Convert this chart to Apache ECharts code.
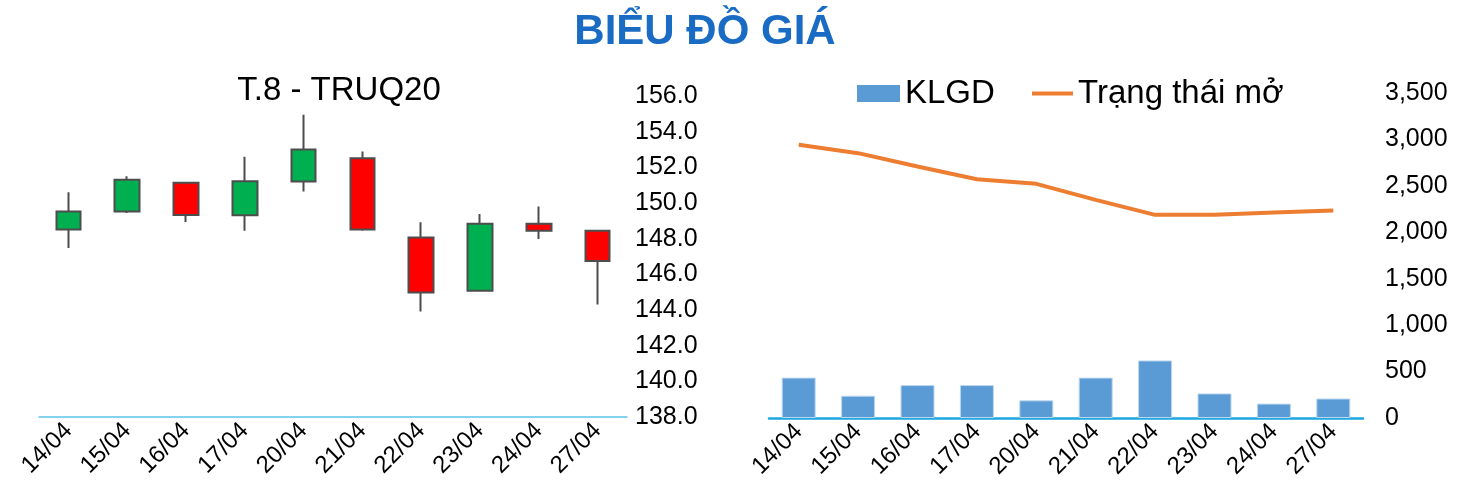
<!doctype html>
<html lang="vi">
  <head>
    <meta charset="utf-8">
    <title>Biểu đồ giá</title>
    <script src="https://cdn.jsdelivr.net/npm/echarts@6/dist/echarts.min.js"></script>
    <style>
      html, body { margin: 0; padding: 0; background: #fff; }
      #chart { width: 1463px; height: 501px; }
    </style>
  </head>
  <body>
    <div id="chart"></div>

  <script>
    // ngày giao dịch
    var days = ['14/04', '15/04', '16/04', '17/04', '20/04', '21/04', '22/04', '23/04', '24/04', '27/04'];

    // nến: mở, đóng, thấp, cao
    var priceOpen  = [148.52, 149.52, 151.13, 149.31, 151.20, 152.51, 148.07, 145.08, 148.84, 148.45];
    var priceClose = [149.53, 151.31, 149.33, 151.22, 153.00, 148.52, 144.98, 148.84, 148.45, 146.75];
    var priceLow   = [147.48, 149.44, 148.94, 148.45, 150.64, 148.45, 143.92, 145.08, 147.98, 144.31];
    var priceHigh  = [150.60, 151.50, 151.13, 152.59, 154.95, 152.89, 148.92, 149.39, 149.81, 148.45];

    // khối lượng giao dịch và trạng thái mở
    var klgd = [435, 240, 355, 355, 190, 435, 620, 265, 155, 210];
    var openInterest = [2942, 2852, 2708, 2572, 2522, 2349, 2188, 2188, 2212, 2234];

    var candleData = [];
    for (var i = 0; i < days.length; i++) {
      candleData.push([priceOpen[i], priceClose[i], priceLow[i], priceHigh[i]]);
    }

    var font = "'Liberation Sans', Arial, sans-serif";

    var chart = echarts.init(document.getElementById('chart'), null, { renderer: 'canvas' });

    var option = {
      animation: false,
      textStyle: { fontFamily: font },
      title: [
        {
          text: 'BIỂU ĐỒ GIÁ',
          left: 700,
          textAlign: 'center',
          top: 6,
          textStyle: { color: '#1A6BC4', fontSize: 42, fontWeight: 'bold', fontFamily: font }
        },
        {
          text: 'T.8 - TRUQ20',
          left: 334,
          textAlign: 'center',
          top: 69,
          textStyle: { color: '#000', fontSize: 33, fontWeight: 'normal', fontFamily: font }
        }
      ],
      legend: [
        {
          left: 852,
          top: 72,
          itemWidth: 43,
          itemHeight: 17,
          itemStyle: { borderWidth: 0 },
          textStyle: { fontSize: 33, color: '#000', fontFamily: font },
          data: [{ name: 'KLGD', icon: 'rect' }]
        },
        {
          left: 1027,
          top: 72,
          itemWidth: 41,
          itemHeight: 4,
          itemStyle: { borderWidth: 0 },
          textStyle: { fontSize: 33, color: '#000', fontFamily: font },
          data: [{ name: 'Trạng thái mở', icon: 'rect' }]
        }
      ],
      grid: [
        { left: 39, right: 836, top: 96, bottom: 84 },
        { left: 769, right: 100, top: 93, bottom: 83 }
      ],
      xAxis: [
        {
          type: 'category',
          gridIndex: 0,
          data: days,
          axisLine: { lineStyle: { color: '#5BC3EC', width: 1.5 } },
          axisTick: { show: false },
          axisLabel: { rotate: 45, color: '#000', fontSize: 24, margin: 10, fontFamily: font }
        },
        {
          type: 'category',
          gridIndex: 1,
          data: days,
          axisLine: { lineStyle: { color: '#1DA6E2', width: 2.5 } },
          axisTick: { show: false },
          axisLabel: { rotate: 45, color: '#000', fontSize: 24, margin: 10, fontFamily: font }
        }
      ],
      yAxis: [
        {
          type: 'value',
          gridIndex: 0,
          position: 'right',
          min: 138,
          max: 156,
          interval: 2,
          axisLine: { show: false },
          axisTick: { show: false },
          splitLine: { show: false },
          axisLabel: {
            color: '#000', fontSize: 25, align: 'left', margin: 8, fontFamily: font,
            formatter: function (v) { return v.toFixed(1); }
          }
        },
        {
          type: 'value',
          gridIndex: 1,
          position: 'right',
          min: 0,
          max: 3500,
          interval: 500,
          axisLine: { show: false },
          axisTick: { show: false },
          splitLine: { show: false },
          axisLabel: {
            color: '#000', fontSize: 25, align: 'left', margin: 22, fontFamily: font,
            formatter: function (v) { return v.toLocaleString('en-US'); }
          }
        }
      ],
      series: [
        {
          name: 'T.8 - TRUQ20',
          type: 'candlestick',
          xAxisIndex: 0,
          yAxisIndex: 0,
          barWidth: 25,
          data: candleData,
          itemStyle: {
            color: '#00B050',
            color0: '#FF0000',
            borderColor: '#4D4D4D',
            borderColor0: '#4D4D4D',
            borderWidth: 2
          }
        },
        {
          name: 'KLGD',
          type: 'bar',
          xAxisIndex: 1,
          yAxisIndex: 1,
          barWidth: 34,
          data: klgd,
          itemStyle: { color: '#5B9BD5', borderColor: '#BDD7EE', borderWidth: 1 }
        },
        {
          name: 'Trạng thái mở',
          type: 'line',
          xAxisIndex: 1,
          yAxisIndex: 1,
          symbol: 'none',
          data: openInterest,
          lineStyle: { color: '#ED7D31', width: 4 },
          itemStyle: { color: '#ED7D31' }
        }
      ]
    };

    chart.setOption(option);
  </script>
  </body>
</html>
